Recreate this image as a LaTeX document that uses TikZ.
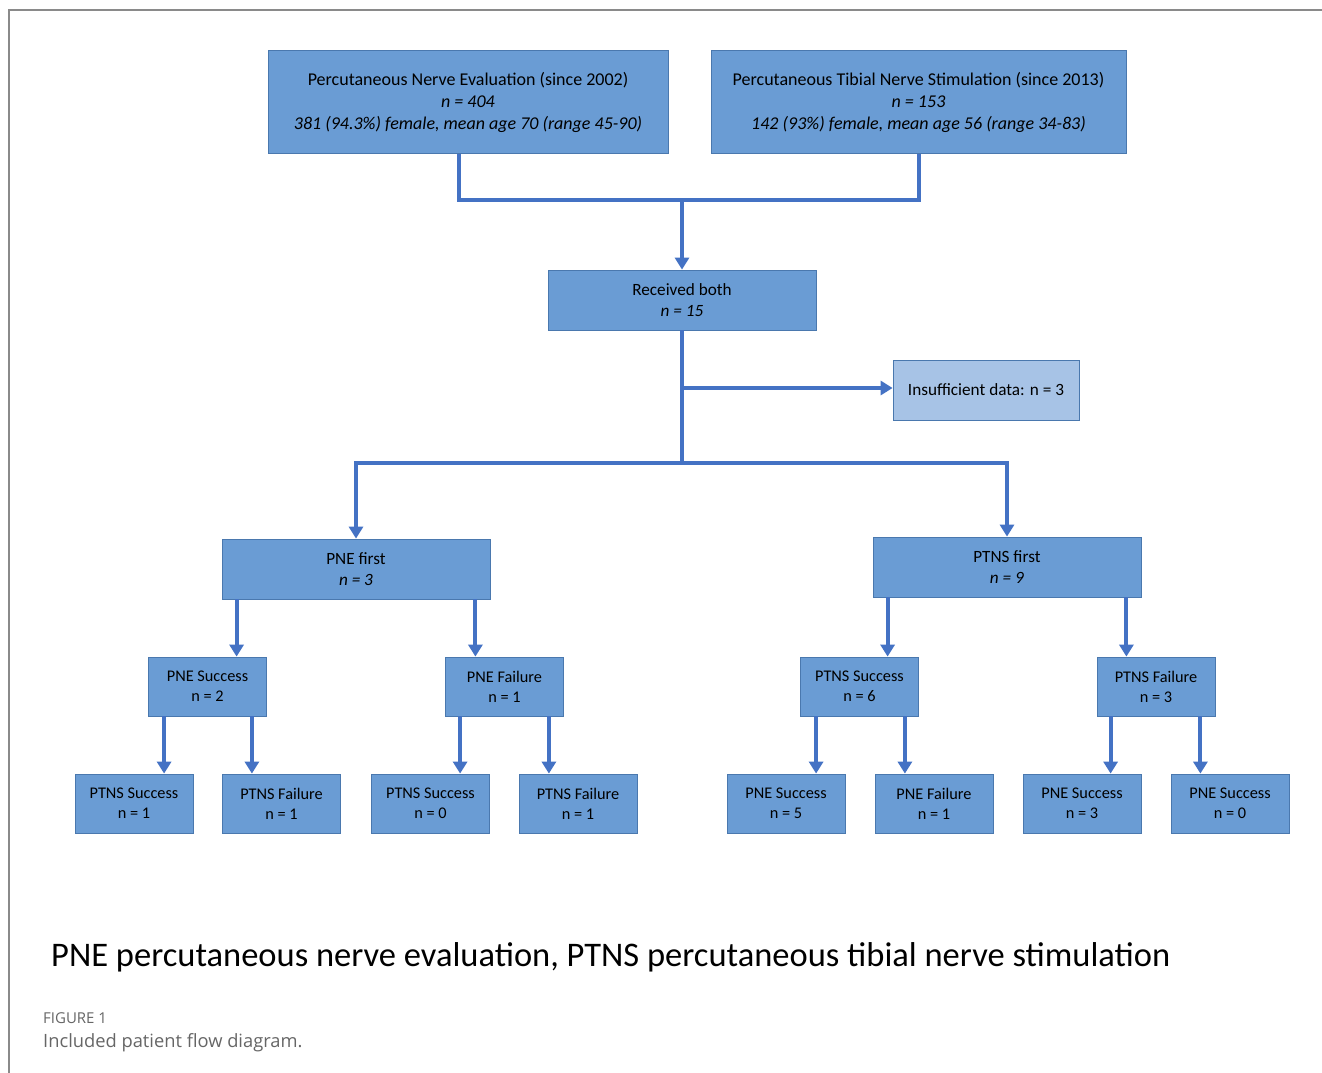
\documentclass[tikz,border=0pt]{standalone}
\usepackage{fontspec}
\setmainfont{Carlito}
\newfontfamily\capfont{Open Sans}
\usetikzlibrary{arrows.meta,calc}
\definecolor{boxfill}{HTML}{6A9CD4}
\definecolor{boxline}{HTML}{4A78AE}
\definecolor{lightfill}{HTML}{A7C3E6}
\definecolor{arrcol}{HTML}{4472C4}
\definecolor{framecol}{HTML}{8A8A8A}
\definecolor{capcol}{HTML}{666666}
\begin{document}
\begin{tikzpicture}[x=1pt,y=-1pt,
  box/.style={draw=boxline, fill=boxfill, line width=0.8pt, inner sep=0pt, align=center, text=black},
  bigbox/.style={box, font=\fontsize{18}{22}\selectfont},
  midbox/.style={box, font=\fontsize{17.2}{21}\selectfont},
  smallbox/.style={box, font=\fontsize{16.3}{20}\selectfont, minimum width=118pt, minimum height=59pt},
  conn/.style={draw=arrcol, line width=4pt},
  arr/.style={conn, -{Triangle[width=14pt,length=12pt]}},
  frameline/.style={draw=framecol, line width=1.3pt}
]
\useasboundingbox (0,0) rectangle (1322,1073);
\fill[white] (0,0) rectangle (1322,1073);
\draw[frameline] (9,1073) -- (9,10) -- (1322,10);

% top boxes
\node[bigbox, minimum width=400pt, minimum height=103pt] (pne) at (468,102)
  {Percutaneous Nerve Evaluation (since 2002)\\ \textit{n = 404}\\ \textit{381 (94.3\%) female, mean age 70 (range 45-90)}};
\node[bigbox, minimum width=415pt, minimum height=103pt] (ptns) at (918.5,102)
  {Percutaneous Tibial Nerve Stimulation (since 2013)\\ \textit{n = 153}\\ \textit{142 (93\%) female, mean age 56 (range 34-83)}};

% received both
\node[midbox, minimum width=268pt, minimum height=60pt] (both) at (682,300)
  {Received both\\ \textit{n = 15}};
\node[midbox, fill=lightfill, minimum width=186pt, minimum height=60pt] (insuf) at (986,390)
  {Insufficient data: n = 3};

% first level
\node[midbox, minimum width=268pt, minimum height=60pt] (pnefirst) at (356,569)
  {PNE first\\ \textit{n = 3}};
\node[midbox, minimum width=268pt, minimum height=60pt] (ptnsfirst) at (1007,567)
  {PTNS first\\ \textit{n = 9}};

% second level
\node[smallbox] (pnesucc) at (207.5,686.5) {PNE Success\\ n = 2};
\node[smallbox] (pnefail) at (504.5,686.5) {PNE Failure\\ n = 1};
\node[smallbox] (ptnssucc) at (859.5,686.5) {PTNS Success\\ n = 6};
\node[smallbox] (ptnsfail) at (1156,686.5) {PTNS Failure\\ n = 3};

% third level
\node[smallbox] (a1) at (134,803.5) {PTNS Success\\ n = 1};
\node[smallbox] (a2) at (281.5,803.5) {PTNS Failure\\ n = 1};
\node[smallbox] (a3) at (430.5,803.5) {PTNS Success\\ n = 0};
\node[smallbox] (a4) at (578,803.5) {PTNS Failure\\ n = 1};
\node[smallbox] (b1) at (786,803.5) {PNE Success\\ n = 5};
\node[smallbox] (b2) at (934,803.5) {PNE Failure\\ n = 1};
\node[smallbox] (b3) at (1082,803.5) {PNE Success\\ n = 3};
\node[smallbox] (b4) at (1230,803.5) {PNE Success\\ n = 0};

% connectors
\coordinate (j1) at (682,200);
\coordinate (j2) at (682,463);
\draw[conn] ([xshift=-9pt]pne.south) |- (j1) -| (ptns.south);
\draw[arr] (j1) -- (both.north);
\draw[conn] (both.south) -- (j2);
\draw[arr] (both.south |- 0,388) -- (insuf.west |- 0,388);
\draw[arr] (j2) -| (pnefirst.north);
\draw[arr] (j2) -| (ptnsfirst.north);

\draw[arr] ([xshift=15pt]pnefirst.south west) -- ([xshift=15pt]pnefirst.south west |- pnesucc.north);
\draw[arr] ([xshift=-15pt]pnefirst.south east) -- ([xshift=-15pt]pnefirst.south east |- pnefail.north);
\draw[arr] ([xshift=15pt]ptnsfirst.south west) -- ([xshift=15pt]ptnsfirst.south west |- ptnssucc.north);
\draw[arr] ([xshift=-15pt]ptnsfirst.south east) -- ([xshift=-15pt]ptnsfirst.south east |- ptnsfail.north);

\draw[arr] ([xshift=16pt]pnesucc.south west) -- ([xshift=16pt]pnesucc.south west |- a1.north);
\draw[arr] ([xshift=-15pt]pnesucc.south east) -- ([xshift=-15pt]pnesucc.south east |- a2.north);
\draw[arr] ([xshift=15pt]pnefail.south west) -- ([xshift=15pt]pnefail.south west |- a3.north);
\draw[arr] ([xshift=-15pt]pnefail.south east) -- ([xshift=-15pt]pnefail.south east |- a4.north);
\draw[arr] ([xshift=16pt]ptnssucc.south west) -- ([xshift=16pt]ptnssucc.south west |- b1.north);
\draw[arr] ([xshift=-14pt]ptnssucc.south east) -- ([xshift=-14pt]ptnssucc.south east |- b2.north);
\draw[arr] ([xshift=14pt]ptnsfail.south west) -- ([xshift=14pt]ptnsfail.south west |- b3.north);
\draw[arr] ([xshift=-15pt]ptnsfail.south east) -- ([xshift=-15pt]ptnsfail.south east |- b4.north);

% footnote and caption
\node[anchor=base west, inner sep=0pt, font=\fontsize{34.5}{40}\selectfont] (foot) at (51,966)
  {PNE percutaneous nerve evaluation, PTNS percutaneous tibial nerve stimulation};
\node[anchor=base west, inner sep=0pt, text=capcol, font=\capfont\fontsize{15}{17}\selectfont] (fig) at (43,1023)
  {FIGURE 1};
\node[anchor=base west, inner sep=0pt, text=capcol, font=\capfont\fontsize{18.3}{21}\selectfont] (cap) at (43,1047)
  {Included patient flow diagram.};
\end{tikzpicture}
\end{document}
